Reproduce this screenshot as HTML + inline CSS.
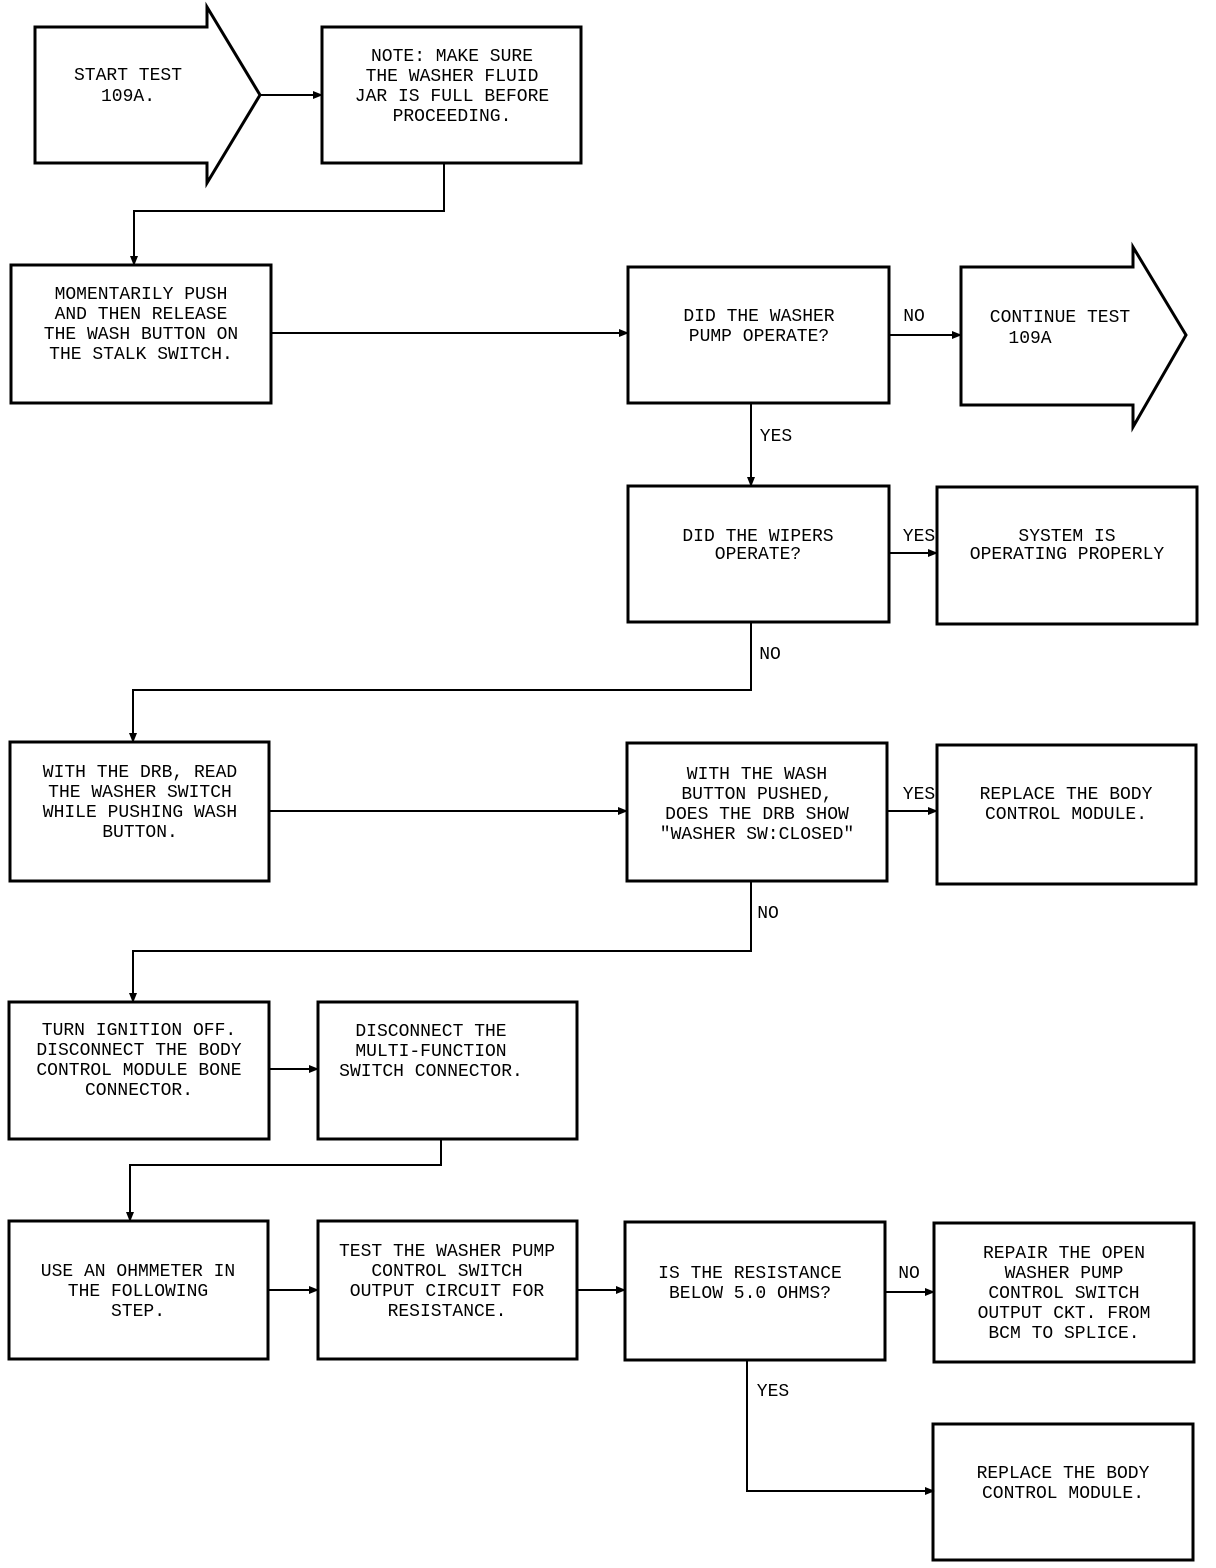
<!DOCTYPE html>
<html><head><meta charset="utf-8"><style>
html,body{margin:0;padding:0;background:#fff}
svg{display:block}
text{font-family:"Liberation Mono",monospace;font-size:18px;fill:#000;text-anchor:middle}
</style></head><body>
<svg width="1216" height="1568" viewBox="0 0 1216 1568" xmlns="http://www.w3.org/2000/svg">
<defs><marker id="a" markerWidth="10" markerHeight="10" refX="9" refY="5" orient="auto" markerUnits="userSpaceOnUse"><path d="M0,1 L10,5 L0,9 Z" fill="#000"/></marker></defs>
<g fill="none" stroke="#000" stroke-width="3">
<polygon points="35,27 207,27 207,7 260,95 207,183 207,163 35,163"/>
<rect x="322" y="27" width="259" height="136"/>
<rect x="11" y="265" width="260" height="138"/>
<rect x="628" y="267" width="261" height="136"/>
<polygon points="961,267 1133,267 1133,247 1186,335 1133,427 1133,405 961,405"/>
<rect x="628" y="486" width="261" height="136"/>
<rect x="937" y="487" width="260" height="137"/>
<rect x="10" y="742" width="259" height="139"/>
<rect x="627" y="743" width="260" height="138"/>
<rect x="937" y="745" width="259" height="139"/>
<rect x="9" y="1002" width="260" height="137"/>
<rect x="318" y="1002" width="259" height="137"/>
<rect x="9" y="1221" width="259" height="138"/>
<rect x="318" y="1221" width="259" height="138"/>
<rect x="625" y="1222" width="260" height="138"/>
<rect x="934" y="1223" width="260" height="139"/>
<rect x="933" y="1424" width="260" height="136"/>
</g>
<g fill="none" stroke="#000" stroke-width="2" marker-end="url(#a)">
<path d="M260,95 H322"/>
<path d="M444,163 V211 H134 V265"/>
<path d="M271,333 H628"/>
<path d="M889,335 H961"/>
<path d="M751,403 V486"/>
<path d="M889,553 H937"/>
<path d="M751,622 V690 H133 V742"/>
<path d="M269,811 H627"/>
<path d="M887,811 H937"/>
<path d="M751,881 V951 H133 V1002"/>
<path d="M269,1069 H318"/>
<path d="M441,1139 V1165 H130 V1221"/>
<path d="M268,1290 H318"/>
<path d="M577,1290 H625"/>
<path d="M885,1292 H934"/>
<path d="M747,1360 V1491 H934"/>
</g>
<text x="128" y="80">START TEST</text><text x="128" y="101">109A.</text>
<text x="452" y="61">NOTE: MAKE SURE</text><text x="452" y="81">THE WASHER FLUID</text><text x="452" y="101">JAR IS FULL BEFORE</text><text x="452" y="121">PROCEEDING.</text>
<text x="141" y="299">MOMENTARILY PUSH</text><text x="141" y="319">AND THEN RELEASE</text><text x="141" y="339">THE WASH BUTTON ON</text><text x="141" y="359">THE STALK SWITCH.</text>
<text x="759" y="321">DID THE WASHER</text><text x="759" y="341">PUMP OPERATE?</text>
<text x="914" y="321">NO</text>
<text x="1060" y="322">CONTINUE TEST</text><text x="1030" y="343">109A</text>
<text x="776" y="441">YES</text>
<text x="758" y="541">DID THE WIPERS</text><text x="758" y="559">OPERATE?</text>
<text x="919" y="541">YES</text>
<text x="1067" y="541">SYSTEM IS</text><text x="1067" y="559">OPERATING PROPERLY</text>
<text x="770" y="659">NO</text>
<text x="140" y="777">WITH THE DRB, READ</text><text x="140" y="797">THE WASHER SWITCH</text><text x="140" y="817">WHILE PUSHING WASH</text><text x="140" y="837">BUTTON.</text>
<text x="757" y="779">WITH THE WASH</text><text x="757" y="799">BUTTON PUSHED,</text><text x="757" y="819">DOES THE DRB SHOW</text><text x="757" y="839">"WASHER SW:CLOSED"</text>
<text x="919" y="799">YES</text>
<text x="1066" y="799">REPLACE THE BODY</text><text x="1066" y="819">CONTROL MODULE.</text>
<text x="768" y="918">NO</text>
<text x="139" y="1035">TURN IGNITION OFF.</text><text x="139" y="1055">DISCONNECT THE BODY</text><text x="139" y="1075">CONTROL MODULE BONE</text><text x="139" y="1095">CONNECTOR.</text>
<text x="431" y="1036">DISCONNECT THE</text><text x="431" y="1056">MULTI-FUNCTION</text><text x="431" y="1076">SWITCH CONNECTOR.</text>
<text x="138" y="1276">USE AN OHMMETER IN</text><text x="138" y="1296">THE FOLLOWING</text><text x="138" y="1316">STEP.</text>
<text x="447" y="1256">TEST THE WASHER PUMP</text><text x="447" y="1276">CONTROL SWITCH</text><text x="447" y="1296">OUTPUT CIRCUIT FOR</text><text x="447" y="1316">RESISTANCE.</text>
<text x="750" y="1278">IS THE RESISTANCE</text><text x="750" y="1298">BELOW 5.0 OHMS?</text>
<text x="909" y="1278">NO</text>
<text x="1064" y="1258">REPAIR THE OPEN</text><text x="1064" y="1278">WASHER PUMP</text><text x="1064" y="1298">CONTROL SWITCH</text><text x="1064" y="1318">OUTPUT CKT. FROM</text><text x="1064" y="1338">BCM TO SPLICE.</text>
<text x="773" y="1396">YES</text>
<text x="1063" y="1478">REPLACE THE BODY</text><text x="1063" y="1498">CONTROL MODULE.</text>
</svg>
</body></html>
